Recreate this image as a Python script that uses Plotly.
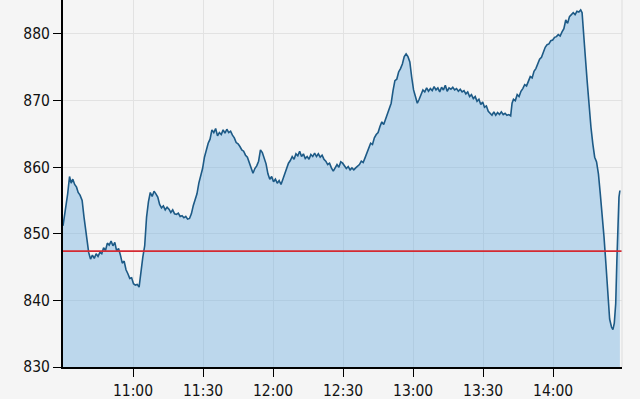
import pandas as pd
import plotly.graph_objects as go

# minutes after 10:30 and index level
minutes = [0, 1, 2, 2.8, 3.5, 4.2, 5, 5.8, 6.5, 7.3, 8.2, 9, 10, 11, 11.8, 12.6, 13.4, 14.2, 15, 15.8,
           16.6, 17.4, 18.2, 19, 19.8, 20.6, 21.4, 22.2, 23, 23.8, 24.6, 25.4, 26.2, 27, 27.8, 28.6, 29.4,
           30.2, 31, 31.8, 32.6, 33.4, 34.2, 35, 35.8, 36.6, 37.4, 38.2, 39, 39.8, 40.6, 41.4, 42.2, 43,
           43.8, 44.6, 45.4, 46.2, 47, 47.8, 48.6, 49.4, 50.2, 51, 51.8, 52.6, 53.4, 54.2, 55, 55.8, 56.6,
           57.4, 58.2, 59, 59.8, 60.6, 61.4, 62.2, 63, 63.8, 64.6, 65.4, 66.2, 67, 67.8, 68.6, 69.4, 70.2,
           71, 71.8, 72.6, 73.4, 74.2, 75, 75.8, 76.6, 77.4, 78.2, 79, 79.8, 80.6, 81.4, 82.2, 83, 83.8,
           84.6, 85.4, 86.2, 87, 87.8, 88.6, 89.4, 90.2, 91, 91.8, 92.6, 93.4, 94.2, 95, 95.8, 96.6, 97.4,
           98.2, 99, 99.8, 100.6, 101.4, 102.2, 103, 103.8, 104.6, 105.4, 106.2, 107, 107.8, 108.6, 109.4,
           110.2, 111, 111.8, 112.6, 113.4, 114.2, 115, 115.8, 116.6, 117.4, 118.2, 119, 119.8, 120.6,
           121.4, 122.2, 123, 123.8, 124.6, 125.4, 126.2, 127, 127.8, 128.6, 129.4, 130.2, 131, 131.8,
           132.6, 133.4, 134.2, 135, 135.8, 136.6, 137.4, 138.2, 139, 139.8, 140.6, 141.4, 142.2, 143,
           143.8, 144.6, 145.4, 146.2, 147, 147.8, 148.6, 149.4, 150.2, 151, 151.8, 152.6, 153.4, 154.2,
           155, 155.8, 156.6, 157.4, 158.2, 159, 159.8, 160.6, 161.4, 162.2, 163, 163.8, 164.6, 165.4,
           166.2, 167, 167.8, 168.6, 169.4, 170.2, 171, 171.8, 172.6, 173.4, 174.2, 175, 175.8, 176.6,
           177.4, 178.2, 179, 179.8, 180.6, 181.4, 182.2, 183, 183.8, 184.6, 185.4, 186.2, 187, 187.8,
           188.6, 189.4, 190.2, 191, 191.8, 192.4, 193, 193.8, 194.6, 195.4, 196.2, 197, 197.8, 198.6,
           199.4, 200.2, 201, 201.8, 202.6, 203.4, 204.2, 205, 205.8, 206.6, 207.4, 208.2, 209, 209.8,
           210.6, 211.4, 212.2, 213, 213.8, 214.6, 215.4, 216.2, 217, 217.8, 218.6, 219.4, 220.2, 221,
           221.8, 222.4, 223, 223.8, 224.6, 225.4, 226.2, 227, 227.8, 228.6, 229.4, 230.2, 231, 231.8,
           232.6, 233.4, 234.2, 235, 235.6, 236.2, 236.8, 237.3, 237.7, 238.2, 238.6]

values = [851.2, 853.5, 856.0, 858.6, 857.6, 858.2, 857.4, 857.0, 856.2, 855.8, 855.0, 852.5, 849.5, 847.2,
          846.2, 846.8, 846.3, 847.0, 846.6, 847.2, 847.0, 847.9, 847.5, 848.6, 848.3, 848.9, 848.2, 848.7,
          847.4, 847.8, 846.8, 845.6, 845.9, 844.6, 844.0, 843.3, 843.4, 842.5, 842.3, 842.4, 842.0, 844.5,
          846.5, 848.2, 852.5, 854.8, 856.2, 855.6, 856.4, 856.0, 855.5, 854.4, 853.9, 854.2, 853.6, 854.0,
          853.7, 853.2, 853.6, 853.0, 852.9, 853.1, 852.6, 852.7, 852.4, 852.6, 852.2, 852.3, 853.0, 854.2,
          855.0, 856.0, 857.6, 858.8, 859.8, 861.5, 862.6, 863.6, 864.2, 865.6, 865.2, 865.8, 864.7, 865.2,
          864.9, 865.6, 865.1, 865.7, 865.2, 865.4, 864.8, 864.4, 863.7, 863.5, 863.1, 862.6, 862.4, 861.8,
          861.5, 860.6, 859.8, 859.1, 859.8, 860.2, 860.9, 862.6, 862.2, 861.2, 860.5, 859.0, 858.2, 858.6,
          857.8, 858.2, 857.6, 858.0, 857.4, 858.2, 859.0, 859.6, 860.6, 861.0, 861.6, 861.2, 862.0, 861.7,
          862.4, 861.6, 862.0, 861.3, 861.6, 861.2, 861.9, 861.6, 862.1, 861.6, 862.0, 861.5, 861.8, 861.2,
          860.9, 860.4, 860.6, 859.9, 859.4, 859.9, 860.4, 860.0, 860.8, 860.6, 860.2, 859.8, 860.1, 859.6,
          859.9, 859.6, 859.9, 860.1, 860.4, 860.9, 860.7, 861.4, 862.1, 862.8, 863.6, 863.4, 864.4, 864.9,
          865.2, 866.1, 866.8, 866.4, 867.2, 868.0, 868.8, 869.6, 871.5, 873.0, 873.2, 874.3, 874.8, 875.5,
          876.6, 877.0, 876.6, 875.8, 873.5, 871.6, 870.6, 869.6, 870.2, 871.0, 871.6, 871.3, 871.9, 871.4,
          871.8, 871.5, 872.1, 871.6, 871.9, 871.3, 872.0, 871.6, 872.3, 871.4, 871.9, 871.7, 872.0, 871.6,
          871.8, 871.4, 871.7, 871.3, 871.5, 871.0, 871.3, 870.6, 870.9, 870.3, 870.6, 869.9, 870.2, 869.4,
          869.8, 869.0, 869.2, 868.4, 868.1, 867.8, 868.3, 867.8, 868.2, 867.9, 868.3, 867.9, 868.1, 867.8,
          867.9, 867.7, 869.6, 870.2, 870.0, 870.9, 870.6, 871.4, 871.8, 872.4, 872.2, 873.0, 873.6, 873.4,
          874.4, 874.8, 875.6, 876.2, 876.5, 877.4, 878.0, 878.4, 878.5, 879.0, 879.1, 879.5, 879.6, 879.9,
          879.7, 880.3, 880.8, 882.1, 881.6, 882.6, 882.9, 883.2, 882.9, 883.4, 883.3, 883.6, 883.2, 879.8,
          876.5, 872.8, 869.0, 866.0, 863.5, 861.5, 860.8, 859.0, 856.0, 853.0, 849.5, 845.5, 840.5, 837.2,
          836.0, 835.6, 836.6, 839.5, 846.0, 852.0, 855.5, 856.5]

prev_close = 847.4
tick_labels = ["11:00", "11:30", "12:00", "12:30", "13:00", "13:30", "14:00"]
y_ticks = [830, 840, 850, 860, 870, 880]

day = "2010-01-04"
base = pd.Timestamp(f"{day} 10:30:00")
times = [base + pd.Timedelta(minutes=m) for m in minutes]
tick_vals = [pd.Timestamp(f"{day} {t}:00") for t in tick_labels]

fig = go.Figure()
fig.add_trace(go.Scatter(
    x=times, y=values, mode="lines",
    line=dict(color="#1d5a86", width=1.6),
    fill="tozeroy", fillcolor="rgba(110,175,225,0.42)",
    hoverinfo="skip", showlegend=False,
))
fig.add_hline(y=prev_close, line=dict(color="#d42a32", width=1.6))

font = dict(family="DejaVu Sans Condensed, DejaVu Sans, sans-serif", size=15.5, color="#111111")
fig.update_layout(
    width=640, height=399,
    margin=dict(l=63, r=18, t=0, b=32),
    paper_bgcolor="#f5f5f5", plot_bgcolor="#f5f5f5",
    font=font,
    showlegend=False,
)
fig.update_xaxes(
    type="date",
    range=[base, base + pd.Timedelta(minutes=239.5)],
    tickvals=tick_vals, ticktext=tick_labels,
    showgrid=True, gridcolor="#e2e2e2", gridwidth=1,
    showline=True, linecolor="#000000", linewidth=2,
    ticks="outside", ticklen=8, tickcolor="#000000", tickwidth=1,
    zeroline=False,
)
fig.update_yaxes(
    range=[830, 885.1],
    tickvals=y_ticks,
    showgrid=True, gridcolor="#e2e2e2", gridwidth=1,
    showline=True, linecolor="#000000", linewidth=2,
    ticks="outside", ticklen=8, tickcolor="#000000", tickwidth=1,
    zeroline=False,
)
fig.add_shape(type="line", xref="paper", yref="paper", x0=1, x1=1, y0=0, y1=1,
              line=dict(color="#dddddd", width=1))

fig.write_html("out.html")
